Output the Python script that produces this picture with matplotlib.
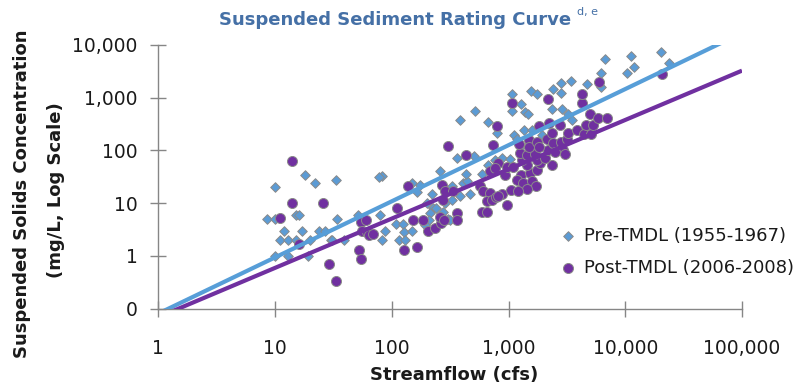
import matplotlib
matplotlib.use("Agg")
import matplotlib.pyplot as plt
import numpy as np

# ---------------- data ----------------
title = "Suspended Sediment Rating Curve"
title_note = "d, e"
x_label = "Streamflow (cfs)"
y_label_1 = "Suspended Solids Concentration"
y_label_2 = "(mg/L, Log Scale)"

pre_label = "Pre-TMDL (1955-1967)"
post_label = "Post-TMDL (2006-2008)"

# Pre-TMDL: streamflow (cfs) and concentration (mg/L)
pre_flow = [8.6, 10, 10, 11, 12, 13, 13, 10, 15, 16, 15, 17, 18, 20, 22, 19, 24, 27, 30, 31,
            33, 34, 39, 51, 83, 78, 80, 88, 82, 108, 115, 125, 127, 148, 130, 148, 175, 165, 220, 199,
            227, 212, 210, 192, 240, 276, 305, 326, 286, 384, 326, 410, 443, 468, 259, 364, 509, 432, 589, 663,
            765, 873, 1030, 1250, 1480, 384, 516, 671, 801, 1070, 1270, 1070, 1390, 1480, 1560, 1750, 2420, 2810, 2810, 3430,
            4700, 2370, 2870, 3250, 1360, 1580, 1120, 1175, 1920, 3470, 6190, 6190, 6700, 11200, 10400, 11900, 20100, 23700, 315, 1560]
pre_conc = [5.0, 20, 5.0, 2.0, 3.0, 2.0, 1.0, 1.0, 6.0, 6.0, 2.0, 3.0, 35, 2.0, 24, 1.0, 3.0, 3.0, 2.0, 2.0,
            28, 5.0, 2.0, 6.0, 33, 32, 6.0, 3.0, 2.0, 4.0, 2.0, 4.0, 2.9, 3.0, 2.0, 24, 22, 16, 15, 10,
            8.0, 6.5, 4.8, 3.9, 8.0, 6.9, 5.0, 11.5, 10, 14, 21, 24, 26, 15, 40, 71, 79, 36, 36, 53,
            66, 71, 68, 118, 115, 380, 570, 343, 212, 1180, 762, 570, 545, 492, 1360, 1160, 1470, 1880, 1210, 2100,
            1820, 604, 604, 492, 245, 245, 197, 163, 197, 380, 2910, 1620, 5360, 6190, 2910, 3780, 7470, 4500, 4.8, 143]

# Post-TMDL
post_flow = [14, 14, 11, 16, 26, 29, 33, 52, 54, 55, 60, 56, 61, 64, 69, 110, 138, 127, 163, 153,
             184, 205, 234, 262, 267, 286, 332, 276, 259, 280, 364, 364, 303, 430, 569, 608, 693, 589, 658, 658,
             718, 785, 873, 817, 964, 693, 933, 1270, 1530, 1740, 1175, 1340, 1580, 1720, 1430, 1060, 1210, 817, 964, 765,
             1100, 1430, 1860, 2340, 1300, 1740, 2050, 1250, 1430, 1690, 2190, 2940, 740, 1220, 1490, 1510, 1740, 1830, 2120, 2420,
             2810, 3190, 2340, 3250, 3830, 4430, 5060, 4580, 5320, 4950, 5870, 7010, 4230, 4230, 5920, 20700, 2180, 1070, 801, 2220,
             1830, 2760, 2500, 3040]
post_conc = [64, 10, 5.2, 1.7, 10, 0.70, 0.34, 1.3, 0.88, 4.4, 4.8, 3.0, 2.9, 2.5, 2.6, 8.2, 21, 1.3, 1.45, 4.8,
             4.8, 3.0, 3.35, 4.2, 22, 17, 17, 11.5, 5.4, 4.8, 6.6, 4.8, 123, 82, 21, 17, 15.5, 6.7, 6.9, 11.2,
             11.5, 13, 15, 14, 9.3, 40, 34, 34, 37, 43, 28, 24, 26, 21, 19, 18, 17, 59, 49, 47,
             49, 53, 57, 53, 66, 66, 71, 89, 82, 86, 102, 102, 126, 131, 158, 118, 147, 118, 163, 137,
             147, 163, 212, 217, 245, 206, 204, 304, 304, 492, 408, 408, 806, 1180, 2010, 2780, 935, 806, 291, 328,
             291, 304, 95, 85]

# Power-law trend lines (y = a * x^b)
pre_trend = (0.081, 1.064)
post_trend = (0.069, 0.935)

x_ticks = [1, 10, 100, 1000, 10000, 100000]
x_tick_labels = ["1", "10", "100", "1,000", "10,000", "100,000"]
y_ticks = [0.1, 1, 10, 100, 1000, 10000]
y_tick_labels = ["0", "1", "10", "100", "1,000", "10,000"]

# ---------------- styling ----------------
W, H = 809, 387
blue = "#5B9BD5"
blue_line = "#579ED8"
purple = "#7030A0"
edge = "#8A8A8A"
axis_col = "#868686"
title_col = "#4570A6"
font = "DejaVu Sans"

plt.rcParams["font.family"] = [font]

fig = plt.figure(figsize=(W / 100, H / 100), dpi=100)
ax = fig.add_axes([158.3 / W, 1 - 308.7 / H, (742 - 158.3) / W, (308.7 - 45) / H])
ax.set_xscale("log")
ax.set_yscale("log")
ax.set_xlim(1, 100000)
ax.set_ylim(0.1, 10000)

ax.scatter(pre_flow, pre_conc, marker="D", s=24, facecolor=blue, edgecolor=edge,
           linewidth=0.7, zorder=3, label=pre_label, clip_on=False)
ax.scatter(post_flow, post_conc, marker="o", s=52, facecolor=purple, edgecolor=edge,
           linewidth=0.7, zorder=4, label=post_label, clip_on=False)

xl = np.logspace(0, 5, 200)
ax.plot(xl, pre_trend[0] * xl ** pre_trend[1], color=blue_line, lw=3.0, zorder=5,
        solid_capstyle="butt")
ax.plot(xl, post_trend[0] * xl ** post_trend[1], color=purple, lw=3.0, zorder=5,
        solid_capstyle="butt")

for s in ["top", "right"]:
    ax.spines[s].set_visible(False)
for s in ["left", "bottom"]:
    ax.spines[s].set_color(axis_col)
    ax.spines[s].set_linewidth(1.0)

ax.set_xticks(x_ticks)
ax.set_xticklabels(x_tick_labels)
ax.set_yticks(y_ticks)
ax.set_yticklabels(y_tick_labels)
ax.minorticks_off()
ax.tick_params(axis="both", which="major", direction="inout", length=11, width=1.0,
               color=axis_col, labelsize=13.5, labelcolor="#1a1a1a")
ax.tick_params(axis="y", pad=9.5)
ax.tick_params(axis="x", pad=16)

leg = ax.legend(loc="center left", bbox_to_anchor=(560 / W, 1 - 252 / H),
                bbox_transform=fig.transFigure, frameon=False, fontsize=13,
                handlelength=0.9, handletextpad=0.45, borderpad=0, borderaxespad=0,
                labelspacing=0.75, scatterpoints=1)
for t in leg.get_texts():
    t.set_color("#1a1a1a")

# titles / labels
t = fig.text(395.5 / W, 1 - 25 / H, title, ha="center", va="baseline",
             fontsize=13, fontweight="bold", color=title_col)
fig.canvas.draw()
bb = t.get_window_extent()
fig.text((bb.x1 + 5) / W, 1 - 15 / H, title_note, ha="left", va="baseline",
         fontsize=8, color=title_col)

fig.text(454 / W, 1 - 375 / H, x_label, ha="center", va="center",
         fontsize=13, fontweight="bold", color="#1a1a1a")
fig.text(22.5 / W, 1 - 194 / H, y_label_1, ha="center", va="center", rotation=90,
         fontsize=13, fontweight="bold", color="#1a1a1a")
fig.text(56 / W, 1 - 190 / H, y_label_2, ha="center", va="center", rotation=90,
         fontsize=13, fontweight="bold", color="#1a1a1a")

fig.savefig("out.png", dpi=100)
